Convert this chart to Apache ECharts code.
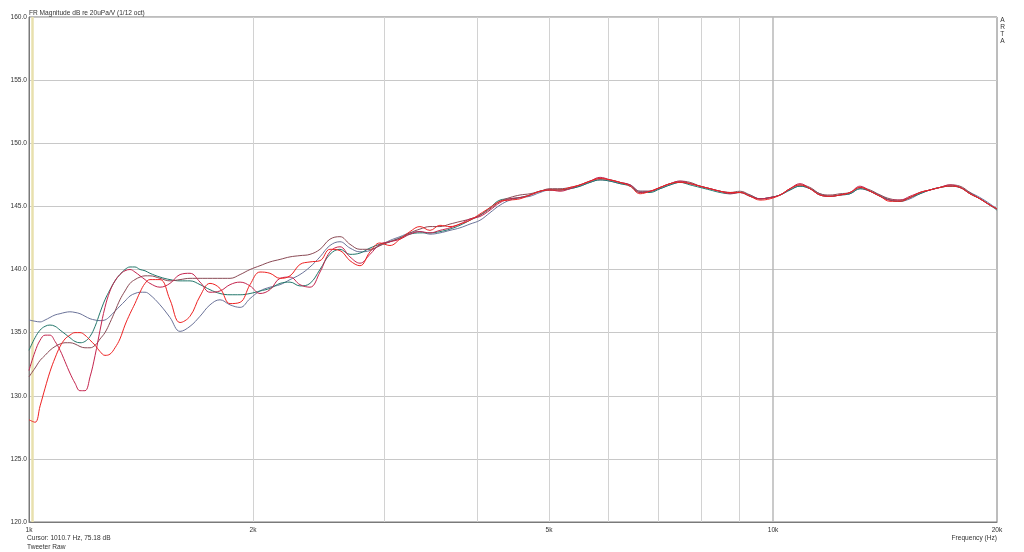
<!DOCTYPE html>
<html>
<head>
<meta charset="utf-8">
<script src="https://cdn.jsdelivr.net/npm/echarts@6/dist/echarts.min.js"></script>
<style>
html,body{margin:0;padding:0;background:#fff;}
#chart{width:1024px;height:552px;}
</style>
</head>
<body>
<div id="chart"></div>
<script>
// Frequencies (Hz)
const freqs = [1000,1019,1035,1051,1067,1084,1101,1118,1135,1153,1171,1189,1208,1227,1246,1265,1285,1305,1325,1346,1367,1388,1410,1432,1454,
1500,1547,1596,1646,1698,1751,1806,1863,1922,1982,2044,2108,2175,2243,2313,2386,2461,2538,2618,2700,2785,2873,2963,3056,3152,3251,3353,3459,3567,3680,3795,3915,4038,4165,4296,4431,4570,4714,4862,5015,
5173,5335,5503,5676,5855,6039,6229,6424,6627,6835,7050,7272,7499,7736,7979,8230,8489,8756,9031,9314,9606,9908,10219,10540,10871,11213,11566,11929,12304,12691,13090,13501,13925,14362,14813,15279,15759,16254,16765,17291,17834,18395,18972,19568,20000];

// dB values per measurement
const slate = [136.0,135.9,135.85,136.0,136.2,136.4,136.5,136.6,136.65,136.6,136.5,136.3,136.1,136.0,135.95,136.0,136.3,136.7,137.1,137.5,137.9,138.1,138.2,138.2,138.0,
137.2,136.2,135.1,135.5,136.3,137.2,137.6,137.2,137.0,137.7,138.3,138.6,138.8,139.2,139.6,140.2,141.0,141.9,142.2,141.7,141.4,141.5,141.9,142.3,142.6,142.9,143.0,142.8,142.9,143.1,143.3,143.6,143.9,144.5,145.1,145.5,145.7,145.8,146.1,146.3,
146.3,146.4,146.6,146.9,147.1,147.0,146.8,146.7,146.2,146.2,146.4,146.7,146.9,146.8,146.6,146.4,146.2,146.1,146.1,145.9,145.6,145.7,145.9,146.3,146.6,146.4,146.0,145.8,145.9,146.0,146.4,146.2,145.9,145.5,145.4,145.6,146.0,146.3,146.5,146.6,146.5,146.1,145.7,145.2,144.8];

const teal = [133.6,134.6,135.2,135.5,135.6,135.5,135.2,134.9,134.6,134.3,134.2,134.3,134.7,135.5,136.6,137.6,138.4,139.1,139.6,140.0,140.2,140.2,140.0,139.9,139.7,
139.4,139.2,139.1,139.1,138.8,138.4,138.1,138.0,138.0,138.1,138.3,138.5,138.9,139.0,138.7,138.9,140.0,141.2,141.6,141.2,141.3,141.7,142.0,142.2,142.5,142.8,142.9,142.9,143.0,143.2,143.5,143.9,144.3,144.9,145.5,145.6,145.7,145.9,146.2,146.3,
146.3,146.4,146.6,146.9,147.1,147.0,146.8,146.6,146.1,146.1,146.4,146.7,146.9,146.7,146.5,146.3,146.1,146.0,146.1,145.8,145.6,145.7,145.9,146.3,146.6,146.4,145.9,145.8,145.9,146.0,146.4,146.2,145.8,145.5,145.4,145.7,146.0,146.3,146.5,146.6,146.5,146.0,145.6,145.1,144.7];

const brown = [131.5,132.2,132.8,133.2,133.6,133.9,134.1,134.2,134.2,134.1,133.9,133.8,133.8,134.0,134.5,135.0,135.8,136.7,137.6,138.3,138.9,139.2,139.4,139.5,139.5,
139.3,139.1,139.2,139.3,139.3,139.3,139.3,139.3,139.6,140.0,140.3,140.6,140.8,141.0,141.1,141.2,141.6,142.4,142.6,142.0,141.6,141.6,141.9,142.2,142.5,142.9,143.2,143.4,143.4,143.6,143.8,144.0,144.3,144.8,145.4,145.7,145.9,146.0,146.2,146.4,
146.4,146.5,146.7,147.0,147.2,147.1,146.9,146.7,146.2,146.2,146.5,146.8,147.0,146.9,146.6,146.4,146.2,146.1,146.2,145.9,145.6,145.7,145.9,146.4,146.7,146.5,146.0,145.9,146.0,146.1,146.5,146.3,145.9,145.6,145.5,145.7,146.1,146.3,146.5,146.7,146.6,146.1,145.6,145.1,144.8];

const crimson = [132.0,133.5,134.4,134.8,134.8,134.3,133.6,132.7,131.8,131.0,130.4,130.4,131.5,133.2,135.2,137.0,138.3,139.1,139.6,139.9,140.0,139.8,139.5,139.2,138.9,
138.6,138.9,139.6,139.7,139.0,138.2,138.3,138.8,139.0,138.7,138.1,138.4,139.3,139.4,138.8,138.6,139.8,141.4,141.8,141.0,140.5,141.2,142.0,142.2,142.4,142.8,143.0,142.9,143.1,143.3,143.6,144.0,144.2,144.7,145.3,145.6,145.7,145.9,146.2,146.3,
146.2,146.4,146.7,147.0,147.3,147.1,146.9,146.7,146.1,146.2,146.5,146.8,147.0,146.8,146.6,146.4,146.2,146.0,146.1,145.8,145.6,145.7,145.9,146.4,146.8,146.4,145.9,145.8,145.9,146.1,146.6,146.2,145.8,145.5,145.5,145.8,146.1,146.3,146.5,146.7,146.5,146.0,145.6,145.1,144.8];

const red = [128.1,127.9,129.2,130.6,131.9,133.0,133.9,134.5,134.8,135.0,135.0,134.8,134.4,134.0,133.5,133.2,133.3,133.8,134.5,135.6,136.5,137.3,138.2,138.9,139.2,
139.2,137.6,135.8,136.3,137.9,138.9,138.5,137.3,137.4,138.8,139.8,139.7,139.3,139.5,140.4,140.6,140.7,141.6,141.5,140.7,140.3,141.4,142.1,141.9,142.4,143.0,143.4,143.1,143.5,143.4,143.6,143.9,144.4,144.9,145.4,145.5,145.6,145.9,146.2,146.3,
146.3,146.5,146.7,147.0,147.2,147.1,146.9,146.6,146.0,146.2,146.5,146.8,146.9,146.8,146.6,146.4,146.2,146.1,146.1,145.8,145.5,145.6,145.9,146.4,146.7,146.4,145.9,145.8,145.9,146.1,146.5,146.2,145.8,145.4,145.4,145.7,146.1,146.3,146.5,146.6,146.5,146.0,145.6,145.1,144.8];

// Axis / grid definitions
const gridFreqs = [2000,3000,4000,5000,6000,7000,8000,9000,10000];
const xTickFreqs = [1000,2000,5000,10000,20000];
const xTickLabels = ['1k','2k','5k','10k','20k'];
const cursorFreq = 1010.7;

const FONT = 'Liberation Sans, Arial, sans-serif';
const chart = echarts.init(document.getElementById('chart'), null, {renderer:'canvas'});

function mk(name, color, arr, extra) {
  return Object.assign({
    name: name, type: 'line', showSymbol: false, smooth: 0.4,
    lineStyle: {color: color, width: 1}, itemStyle:{color: color},
    data: freqs.map((f,i)=>[f, arr[i]]), z: 3, animation: false
  }, extra || {});
}

chart.setOption({
  backgroundColor: '#ffffff',
  animation: false,
  textStyle: {fontFamily: FONT},
  grid: {left: 29, right: 27, top: 17, bottom: 30, show: true, borderColor: '#7a7a7a', borderWidth: 1, backgroundColor:'#fff'},
  xAxis: {
    type: 'log', logBase: 10, min: 1000, max: 20000,
    axisLine: {show: true, lineStyle: {color: '#7a7a7a'}},
    axisTick: {show: false}, axisLabel: {show: false}, splitLine: {show: false}
  },
  yAxis: {
    type: 'value', min: 120, max: 160, interval: 5,
    axisLine: {show: true, lineStyle: {color: '#7a7a7a'}},
    axisTick: {show: false},
    axisLabel: {formatter: v => v.toFixed(1), fontSize: 6.6, color: '#333', margin: 2, fontFamily: FONT},
    splitLine: {show: true, lineStyle: {color: '#c8c8c8', width: 1}}
  },
  title: {
    text: 'FR Magnitude dB re 20uPa/V (1/12 oct)', left: 29, top: 10, padding: 0,
    textStyle: {fontSize: 6.6, fontWeight: 'normal', color: '#333', fontFamily: FONT}
  },
  graphic: [
    {type:'text', right: 19, top: 17, style:{text:'A\nR\nT\nA', fontSize: 6.6, lineHeight: 7, fill:'#333', font: '6.6px Liberation Sans'}},
    {type:'text', left: 27, top: 535, style:{text:'Cursor: 1010.7 Hz, 75.18 dB', fill:'#333', font: '6.6px Liberation Sans'}},
    {type:'text', left: 27, top: 544, style:{text:'Tweeter Raw', fill:'#333', font: '6.6px Liberation Sans'}},
    {type:'text', right: 27, top: 535, style:{text:'Frequency (Hz)', fill:'#333', font: '6.6px Liberation Sans'}}
  ],
  series: [
    mk('M1', '#6b7399', slate, {markLine: {
      silent: true, symbol: 'none', z: 1, animation: false,
      label: {show: false},
      lineStyle: {color: '#d2d2d2', width: 1, type: 'solid'},
      data: gridFreqs.map(f => ({xAxis: f, lineStyle: {color: f === 10000 ? '#b8b8b8' : '#d2d2d2', width: f===10000?1.5:1, type:'solid'}}))
    }}),
    mk('M2', '#23776b', teal, {markLine: {
      silent: true, symbol: 'none', z: 1, animation: false,
      lineStyle: {color: 'rgba(0,0,0,0)', width: 0},
      label: {show: true, position: 'start', formatter: '{b}', fontSize: 6.6, color: '#333', distance: 5, fontFamily: FONT},
      data: xTickFreqs.map((f,i) => ({xAxis: f, name: xTickLabels[i]}))
    }}),
    mk('M3', '#8a4a55', brown, {markLine: {
      silent: true, symbol: 'none', z: 1, animation: false,
      label: {show: false},
      lineStyle: {color: '#e8e0ae', width: 2.5, type: 'solid'},
      data: [{xAxis: cursorFreq}]
    }}),
    mk('M4', '#c4244e', crimson),
    mk('M5', '#ee2222', red)
  ]
});
</script>
</body>
</html>
